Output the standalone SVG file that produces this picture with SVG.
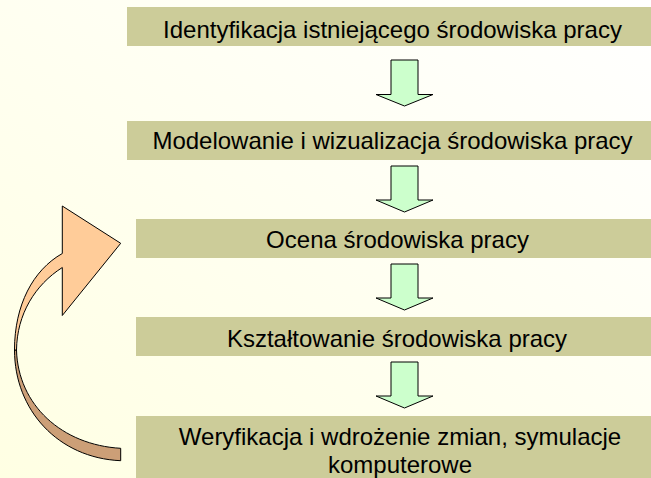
<svg xmlns="http://www.w3.org/2000/svg" width="651" height="478" viewBox="0 0 651 478">
<defs>
<linearGradient id="bg" x1="1" y1="0" x2="0" y2="1">
<stop offset="0" stop-color="#FFFFFF"/>
<stop offset="1" stop-color="#FFFFE3"/>
</linearGradient>
<style>
.box{fill:#CCCC99;}
.t{font-family:"Liberation Sans",Arial,sans-serif;font-size:24px;fill:#000;text-anchor:middle;}
.down{fill:#CCFFCC;stroke:#000;stroke-width:1;}
.light{fill:#FFCC99;stroke:#000;stroke-width:1;}
.dark{fill:#CC9F77;stroke:#000;stroke-width:1;}
</style>
</defs>
<rect x="0" y="0" width="651" height="478" fill="url(#bg)"/>
<g id="n1"><rect class="box" x="127" y="7" width="524" height="39"/><text class="t" x="392.5" y="37.5">Identyfikacja istniejącego środowiska pracy</text></g>
<g id="n2"><rect class="box" x="127" y="121" width="524" height="39"/><text class="t" x="392.5" y="149">Modelowanie i wizualizacja środowiska pracy</text></g>
<g id="n3"><rect class="box" x="136" y="219" width="515" height="39"/><text class="t" x="397.5" y="247.5">Ocena środowiska pracy</text></g>
<g id="n4"><rect class="box" x="136" y="317" width="515" height="39"/><text class="t" x="397" y="346.5">Kształtowanie środowiska pracy</text></g>
<g id="n5"><rect class="box" x="136" y="416" width="515" height="62"/><text class="t" x="400" y="445">Weryfikacja i wdrożenie zmian, symulacje</text><text class="t" x="400" y="473.3">komputerowe</text></g>
<g id="connectors">
<path class="down" d="M391,60 H418 V94.5 H433 L404.5,106 L376,94.5 H391 Z"/>
<path class="down" d="M391,166 H418 V200 H433 L404.5,212 L376,200 H391 Z"/>
<path class="down" d="M391,264 H418 V298 H433 L404.5,310 L376,298 H391 Z"/>
<path class="down" d="M391,362 H418 V396 H433 L404.5,408 L376,396 H391 Z"/>
<path class="dark" d="M14.5,350 C14.5,410 58,458 120.7,460.7 L120.7,448.3 C62,445 18,405 16.5,350 Z"/>
<path class="light" d="M14.5,350 C14.5,305 33,270 62.3,253.5 L62.3,206 L120.7,243.3 L62.3,315.5 L62.3,267.5 C35,285 17,314 16.5,350 Z"/>
</g>
</svg>
